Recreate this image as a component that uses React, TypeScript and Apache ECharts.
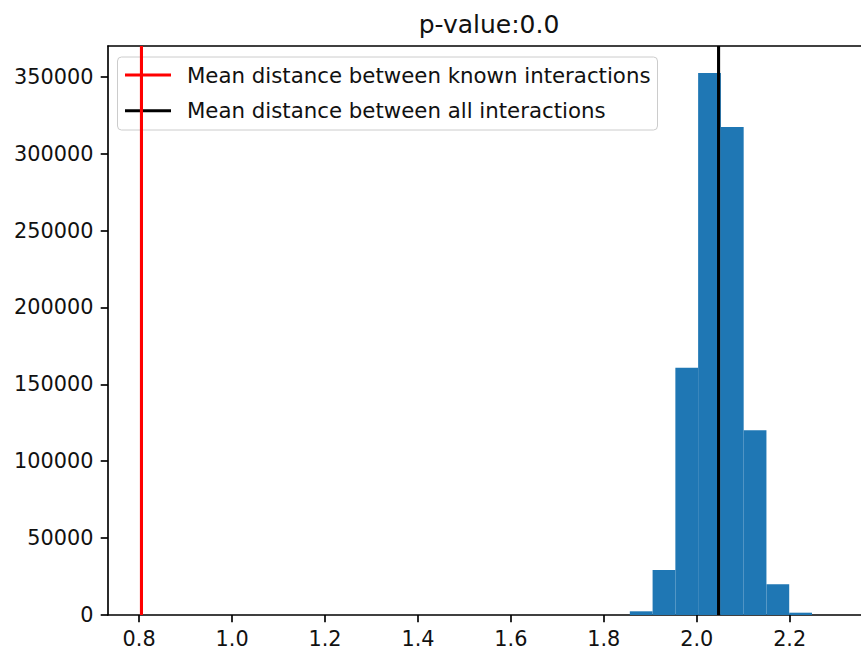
import React, { useEffect, useRef } from "react";
import * as echarts from "echarts";

// Histogram of mean pairwise distances (random draws)
const binEdges = [1.856, 1.905, 1.954, 2.003, 2.052, 2.101, 2.15, 2.199, 2.248];
const binCounts = [2400, 29300, 160700, 352400, 317300, 120200, 20000, 1500];

// Reference means drawn as vertical lines
const knownMean = 0.805;
const allMean = 2.047;

const xTicks = [0.8, 1.0, 1.2, 1.4, 1.6, 1.8, 2.0, 2.2];
const yTicks = [0, 50000, 100000, 150000, 200000, 250000, 300000, 350000];

const titleText = "p-value:0.0";
const knownLabel = "Mean distance between known interactions";
const allLabel = "Mean distance between all interactions";

const X_MIN = 0.733;
const X_MAX = 2.3535;
const Y_MAX = 370000;

const FONT = "'DejaVu Sans', sans-serif";
const TICK_FS = 20.8;
const LEGEND_FS = 21.3;
const SPINE_W = 1.67;

export default function App() {
  const ref = useRef<HTMLDivElement>(null);

  useEffect(() => {
    if (!ref.current) return;
    const chart = echarts.init(ref.current, null, { renderer: "svg" });

    const histData = binCounts.map((c, i) => [binEdges[i], binEdges[i + 1], c]);

    const axisText = { fontSize: TICK_FS, lineHeight: 21, color: "#111", fontFamily: FONT };

    chart.setOption({
      animation: false,
      backgroundColor: "#ffffff",
      grid: {
        left: 108,
        top: 46,
        right: 0,
        bottom: 35,
        containLabel: false,
        outerBoundsMode: "none",
      },
      xAxis: [
        {
          type: "value",
          min: X_MIN,
          max: X_MAX,
          position: "bottom",
          axisLine: { show: true, onZero: false, lineStyle: { color: "#000", width: SPINE_W } },
          axisTick: {
            show: true,
            customValues: xTicks,
            length: 7.3,
            lineStyle: { color: "#000", width: SPINE_W },
          },
          axisLabel: {
            show: true,
            customValues: xTicks,
            margin: 13.4,
            formatter: (v: number) => v.toFixed(1),
            ...axisText,
          },
          splitLine: { show: false },
        },
        {
          type: "value",
          min: X_MIN,
          max: X_MAX,
          position: "top",
          axisLine: { show: true, onZero: false, lineStyle: { color: "#000", width: SPINE_W } },
          axisTick: { show: false },
          axisLabel: { show: false },
          splitLine: { show: false },
        },
      ],
      yAxis: {
        type: "value",
        min: 0,
        max: Y_MAX,
        axisLine: { show: true, lineStyle: { color: "#000", width: SPINE_W } },
        axisTick: {
          show: true,
          customValues: yTicks,
          length: 7.3,
          lineStyle: { color: "#000", width: SPINE_W },
        },
        axisLabel: {
          show: true,
          customValues: yTicks,
          margin: 14.6,
          formatter: (v: number) => String(v),
          ...axisText,
        },
        splitLine: { show: false },
      },
      series: [
        {
          type: "custom",
          name: "hist",
          data: histData,
          encode: { x: [0, 1], y: 2 },
          z: 1,
          renderItem: (_params: any, api: any) => {
            const p0 = api.coord([api.value(0), api.value(2)]);
            const p1 = api.coord([api.value(1), 0]);
            return {
              type: "rect",
              shape: { x: p0[0], y: p0[1], width: p1[0] - p0[0], height: p1[1] - p0[1] },
              style: { fill: "#1f77b4" },
            };
          },
        },
        {
          type: "line",
          name: knownLabel,
          data: [
            [knownMean, 0],
            [knownMean, Y_MAX],
          ],
          symbol: "none",
          z: 3,
          lineStyle: { color: "#ff0000", width: 3.1 },
        },
        {
          type: "line",
          name: allLabel,
          data: [
            [allMean, 0],
            [allMean, Y_MAX],
          ],
          symbol: "none",
          z: 3,
          lineStyle: { color: "#000000", width: 3.1 },
        },
      ],
      graphic: [
        {
          type: "text",
          x: 489,
          y: 24.4,
          z: 10,
          style: {
            text: titleText,
            fontSize: 25,
            fontFamily: FONT,
            fill: "#111",
            align: "center",
            verticalAlign: "middle",
          },
        },
        {
          type: "group",
          z: 100,
          children: [
            {
              type: "rect",
              shape: { x: 117.5, y: 57, width: 540, height: 73, r: 4 },
              style: { fill: "rgba(255,255,255,0.8)", stroke: "#cccccc", lineWidth: 1 },
            },
            {
              type: "line",
              shape: { x1: 125, y1: 75, x2: 171, y2: 75 },
              style: { stroke: "#ff0000", lineWidth: 3.1 },
            },
            {
              type: "text",
              x: 187,
              y: 75,
              style: {
                text: knownLabel,
                fontSize: LEGEND_FS,
                fontFamily: FONT,
                fill: "#111",
                align: "left",
                verticalAlign: "middle",
              },
            },
            {
              type: "line",
              shape: { x1: 125, y1: 110.7, x2: 171, y2: 110.7 },
              style: { stroke: "#000000", lineWidth: 3.1 },
            },
            {
              type: "text",
              x: 187,
              y: 110.7,
              style: {
                text: allLabel,
                fontSize: LEGEND_FS,
                fontFamily: FONT,
                fill: "#111",
                align: "left",
                verticalAlign: "middle",
              },
            },
          ],
        },
      ],
    });

    return () => chart.dispose();
  }, []);

  return (
    <div
      ref={ref}
      style={{ position: "absolute", left: 0, top: 0, width: 861, height: 650, background: "#fff" }}
    />
  );
}
